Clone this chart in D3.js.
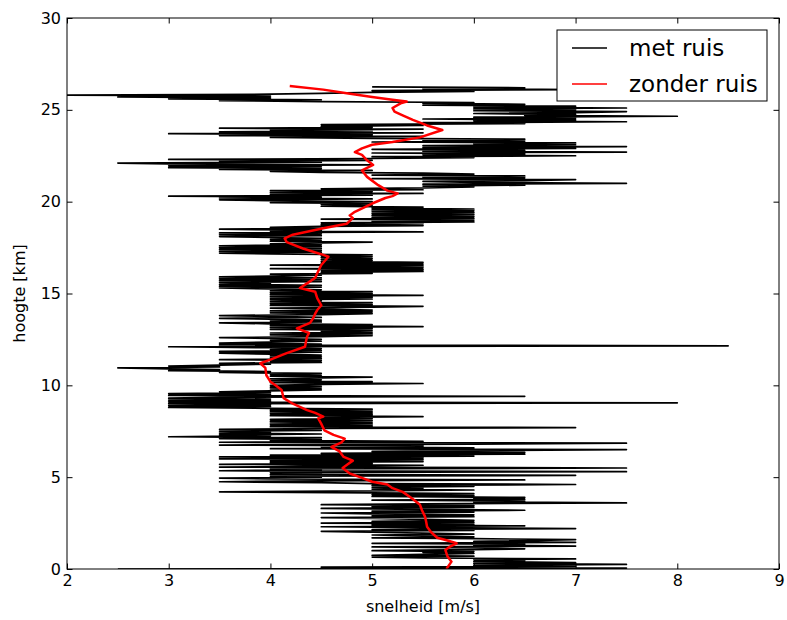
<!DOCTYPE html>
<html>
<head>
<meta charset="utf-8">
<script src="https://cdn.jsdelivr.net/npm/d3@7"></script>
<style>
  body { margin: 0; background: #fff; }
  svg text { font-family: "DejaVu Sans", sans-serif; fill: #000; }
</style>
</head>
<body>
<div id="chart"></div>
<script>
// meting met ruis: een snelheid per 0.05 km hoogte, vanaf 0 km (20 waarden per km)
var hoogteStap = 0.05;
var snelheidMetRuis = [
    2.5, 7.5, 4.5, 7.0, 6.0, 7.5, 6.0, 7.0, 6.0, 6.5, 6.0, 7.0, 5.5, 5.0, 6.0, 5.0, 5.5, 6.0, 5.5, 6.0,   // 0 km
    5.0, 6.0, 6.5, 6.0, 5.0, 7.0, 6.0, 6.5, 5.0, 7.0, 6.0, 6.5, 7.0, 6.0, 5.0, 6.0, 5.5, 5.0, 6.0, 5.5,   // 1
    5.0, 4.5, 6.0, 5.0, 7.0, 5.5, 4.5, 6.5, 5.0, 6.0, 4.5, 6.0, 5.0, 6.0, 5.5, 5.0, 4.5, 6.0, 5.0, 6.0,   // 2
    5.0, 4.5, 6.0, 5.0, 6.5, 5.5, 4.5, 6.0, 5.0, 6.0, 4.5, 5.5, 7.5, 6.0, 6.5, 5.0, 6.5, 6.0, 6.5, 5.0,   // 3
    6.0, 5.0, 6.0, 5.0, 3.5, 5.0, 6.0, 5.0, 5.5, 5.0, 6.0, 5.0, 7.0, 5.0, 4.5, 3.5, 4.5, 6.5, 4.0, 3.5,   // 4
    4.5, 4.0, 7.0, 4.0, 4.5, 4.0, 7.5, 3.5, 4.5, 4.0, 7.5, 3.5, 4.5, 5.5, 3.5, 5.0, 4.0, 5.5, 4.0, 5.5,   // 5
    3.5, 5.5, 3.5, 6.0, 4.0, 6.5, 4.5, 6.5, 5.0, 6.0, 7.5, 4.0, 6.0, 4.5, 5.5, 3.5, 6.0, 7.5, 3.5, 5.5,   // 6
    4.0, 4.5, 3.5, 4.5, 3.0, 4.0, 3.5, 4.5, 3.5, 4.0, 3.5, 4.5, 3.5, 4.5, 7.0, 4.0, 5.0, 4.0, 5.0, 4.0,   // 7
    5.0, 4.0, 5.0, 4.0, 5.0, 4.5, 5.5, 4.0, 5.0, 4.0, 5.0, 4.0, 5.0, 4.0, 5.0, 4.0, 3.0, 4.0, 3.0, 4.0,   // 8
    3.0, 8.0, 3.0, 4.0, 3.0, 4.0, 3.0, 3.5, 6.5, 3.0, 4.0, 3.0, 4.0, 3.5, 4.0, 4.5, 4.0, 4.5, 4.0, 4.5,   // 9
    4.0, 4.5, 5.5, 4.0, 5.0, 4.0, 4.5, 4.0, 4.5, 5.0, 4.0, 4.5, 4.0, 4.5, 3.5, 4.0, 3.0, 3.5, 3.0, 2.5,   // 10
    3.5, 3.0, 3.5, 4.0, 3.5, 4.5, 4.0, 4.5, 3.5, 4.5, 4.0, 4.5, 4.0, 4.5, 4.0, 3.5, 4.5, 3.5, 4.5, 4.0,   // 11
    4.5, 4.0, 3.0, 8.5, 3.5, 4.5, 3.5, 4.0, 4.5, 4.0, 4.5, 4.0, 3.5, 4.5, 5.0, 4.0, 5.0, 4.0, 5.0, 4.5,   // 12
    5.0, 4.0, 5.0, 4.0, 5.5, 4.0, 5.0, 4.0, 3.5, 4.5, 4.0, 4.5, 4.0, 3.5, 4.5, 4.0, 3.5, 4.5, 5.0, 4.0,   // 13
    5.0, 4.0, 5.0, 4.5, 4.0, 5.0, 5.5, 4.0, 5.0, 4.0, 5.0, 4.0, 4.5, 4.0, 5.0, 4.0, 5.0, 4.0, 5.5, 4.0,   // 14
    5.0, 4.0, 5.0, 4.0, 4.5, 4.0, 3.5, 4.5, 3.5, 4.5, 3.5, 4.0, 3.5, 4.5, 3.5, 4.5, 3.5, 4.5, 3.5, 4.0,   // 15
    4.5, 4.0, 5.0, 4.5, 5.5, 4.5, 5.5, 4.0, 5.5, 4.5, 5.5, 4.0, 5.5, 4.5, 5.5, 4.5, 5.0, 4.5, 5.0, 4.5,   // 16
    5.0, 4.5, 5.0, 4.0, 3.5, 4.5, 3.5, 4.5, 3.5, 4.5, 3.5, 4.5, 3.5, 4.5, 4.0, 4.5, 5.0, 4.0, 4.5, 4.0,   // 17
    4.5, 4.0, 3.5, 4.5, 3.5, 4.5, 3.5, 5.5, 4.0, 4.5, 3.5, 4.5, 4.0, 4.5, 5.5, 4.5, 5.5, 4.5, 6.0, 5.0,   // 18
    6.0, 4.5, 6.0, 5.0, 6.0, 5.0, 6.0, 5.0, 6.0, 5.0, 6.0, 5.0, 6.0, 5.0, 5.5, 4.5, 5.0, 4.5, 5.0, 4.0,   // 19
    5.0, 4.0, 3.5, 5.0, 3.5, 4.5, 3.0, 5.0, 4.0, 5.5, 4.0, 5.0, 4.0, 5.5, 4.5, 5.5, 6.0, 5.5, 6.5, 5.5,   // 20
    7.5, 6.0, 5.5, 6.5, 7.0, 5.0, 6.5, 5.5, 6.5, 5.0, 6.0, 5.5, 4.5, 4.0, 5.0, 3.5, 4.5, 3.0, 4.5, 3.0,   // 21
    5.0, 3.0, 2.5, 4.5, 3.5, 5.0, 3.0, 5.0, 6.0, 5.0, 7.0, 5.5, 6.5, 5.0, 7.5, 5.5, 6.5, 5.0, 7.0, 5.5,   // 22
    7.5, 5.5, 7.0, 6.0, 7.0, 5.0, 6.5, 5.5, 6.5, 5.0, 4.0, 5.5, 3.5, 5.0, 3.0, 5.5, 3.5, 5.0, 4.0, 5.5,   // 23
    3.5, 5.0, 4.5, 5.5, 4.5, 6.5, 5.5, 7.5, 6.0, 7.0, 5.5, 7.0, 6.0, 8.0, 6.5, 7.0, 6.0, 7.0, 7.5, 6.0,   // 24
    7.0, 6.0, 7.5, 6.0, 7.0, 5.5, 6.5, 5.5, 6.0, 4.5, 3.5, 4.5, 3.0, 4.0, 2.5, 4.0, 2.0, 4.0, 4.5, 5.0,   // 25
    6.0, 5.0, 7.0, 5.5, 6.5, 5.0                                                                     // 26
];

// profiel zonder ruis
var hoogteZonderRuis = [
    0.0, 0.4, 0.7, 1.03, 1.2, 1.4, 1.55, 1.7, 2.0, 2.3, 2.6, 2.85, 3.2, 3.5, 3.85,
    4.2, 4.4, 4.6, 4.75, 5.0, 5.2, 5.5, 5.7, 5.9, 6.1, 6.4, 6.65, 6.9, 7.1, 7.3,
    7.55, 7.9, 8.2, 8.3, 8.5, 8.65, 9.0, 9.3, 9.75, 10.0, 10.2, 10.55, 10.95, 11.2, 11.4,
    11.75, 12.1, 12.4, 12.65, 12.85, 13.1, 13.4, 13.65, 13.9, 14.1, 14.35, 14.75, 15.1, 15.3, 15.55,
    15.85, 16.1, 16.55, 17.0, 17.1, 17.45, 17.8, 18.0, 18.2, 18.55, 18.8, 19.1, 19.25, 19.45, 19.9,
    20.2, 20.3, 20.45, 20.6, 20.9, 21.35, 21.7, 22.0, 22.25, 22.55, 22.7, 22.9, 23.1, 23.25, 23.5,
    23.9, 24.15, 24.45, 24.7, 24.9, 25.1, 25.35, 25.45, 25.55, 25.7, 25.9, 26.1, 26.3
];
var snelheidZonderRuis = [
    5.73, 5.78, 5.74, 5.72, 5.76, 5.83, 5.74, 5.64, 5.58, 5.54, 5.53, 5.52, 5.49, 5.47, 5.39,
    5.30, 5.20, 5.15, 5.00, 4.88, 4.78, 4.71, 4.76, 4.81, 4.72, 4.68, 4.60, 4.70, 4.73, 4.62,
    4.53, 4.50, 4.47, 4.52, 4.44, 4.36, 4.22, 4.13, 4.11, 4.05, 4.00, 3.96, 3.95, 3.90, 4.00,
    4.16, 4.34, 4.35, 4.36, 4.38, 4.26, 4.39, 4.42, 4.44, 4.46, 4.50, 4.46, 4.44, 4.29, 4.36,
    4.44, 4.46, 4.50, 4.57, 4.52, 4.32, 4.16, 4.14, 4.22, 4.52, 4.75, 4.81, 4.78, 4.83, 5.00,
    5.13, 5.20, 5.25, 5.15, 5.06, 4.95, 4.90, 5.01, 4.95, 4.90, 4.83, 4.90, 5.00, 5.20, 5.47,
    5.69, 5.54, 5.40, 5.30, 5.22, 5.20, 5.28, 5.34, 5.20, 5.00, 4.75, 4.52, 4.19
];

var xTicks = [2, 3, 4, 5, 6, 7, 8, 9];
var yTicks = [0, 5, 10, 15, 20, 25, 30];
var legendaLabels = ['met ruis', 'zonder ruis'];
var legendaKleuren = ['#000000', '#ff0000'];

var W = 787, H = 620;
var M = {top: 18, right: 8, bottom: 51, left: 67};
var iw = W - M.left - M.right;
var ih = H - M.top - M.bottom;

var svg = d3.select('#chart').append('svg')
    .attr('width', W)
    .attr('height', H)
    .style('display', 'block');

var g = svg.append('g').attr('transform', 'translate(' + M.left + ',' + M.top + ')');

var x = d3.scaleLinear().domain([2, 9]).range([0, iw]);
var y = d3.scaleLinear().domain([0, 30]).range([ih, 0]);

var ruisData = snelheidMetRuis.map(function(v, i) { return {h: i * hoogteStap, v: v}; });
var gladData = hoogteZonderRuis.map(function(h, i) { return {h: h, v: snelheidZonderRuis[i]}; });

var line = d3.line()
    .x(function(d) { return x(d.v); })
    .y(function(d) { return y(d.h); });

g.append('defs').append('clipPath').attr('id', 'clip')
    .append('rect').attr('width', iw).attr('height', ih);

g.append('path')
    .datum(ruisData)
    .attr('clip-path', 'url(#clip)')
    .attr('fill', 'none')
    .attr('stroke', legendaKleuren[0])
    .attr('stroke-width', 1.7)
    .attr('stroke-linejoin', 'round')
    .attr('d', line);

g.append('path')
    .datum(gladData)
    .attr('clip-path', 'url(#clip)')
    .attr('fill', 'none')
    .attr('stroke', legendaKleuren[1])
    .attr('stroke-width', 2.5)
    .attr('stroke-linejoin', 'round')
    .attr('d', line);

// assen met ticks naar binnen, ook boven en rechts
var tl = 5.5;
g.append('g').attr('class', 'axis')
    .attr('transform', 'translate(0,' + ih + ')')
    .call(d3.axisBottom(x).tickValues(xTicks).tickSize(-tl).tickPadding(6).tickFormat(d3.format('d')));
g.append('g').attr('class', 'axis')
    .call(d3.axisTop(x).tickValues(xTicks).tickSize(-tl).tickFormat(''));
g.append('g').attr('class', 'axis')
    .call(d3.axisLeft(y).tickValues(yTicks).tickSize(-tl).tickPadding(6).tickFormat(d3.format('d')));
g.append('g').attr('class', 'axis')
    .attr('transform', 'translate(' + iw + ',0)')
    .call(d3.axisRight(y).tickValues(yTicks).tickSize(-tl).tickFormat(''));

g.selectAll('.axis .domain').remove();
g.selectAll('.axis .tick line').style('stroke', '#000').style('stroke-width', 1);
g.selectAll('.axis text').style('font-size', '16px').style('fill', '#000')
    .style('font-family', '"DejaVu Sans", sans-serif');

g.append('rect')
    .attr('width', iw).attr('height', ih)
    .attr('fill', 'none')
    .attr('stroke', '#000')
    .attr('stroke-width', 1);

// aslabels
svg.append('text')
    .attr('x', M.left + iw / 2)
    .attr('y', 612)
    .attr('text-anchor', 'middle')
    .style('font-size', '16px')
    .text('snelheid [m/s]');

svg.append('text')
    .attr('transform', 'translate(25,' + (M.top + ih / 2) + ') rotate(-90)')
    .attr('text-anchor', 'middle')
    .style('font-size', '16px')
    .text('hoogte [km]');

// legenda
var leg = svg.append('g');
leg.append('rect')
    .attr('x', 557).attr('y', 30)
    .attr('width', 210).attr('height', 71)
    .attr('fill', '#fff')
    .attr('stroke', '#000')
    .attr('stroke-width', 1);

legendaLabels.forEach(function(lab, i) {
    var ly = 48 + i * 36;
    leg.append('line')
        .attr('x1', 572).attr('x2', 607)
        .attr('y1', ly).attr('y2', ly)
        .attr('stroke', legendaKleuren[i])
        .attr('stroke-width', 1.6);
    leg.append('text')
        .attr('x', 629)
        .attr('y', ly + 8)
        .style('font-size', '23px')
        .text(lab);
});
</script>
</body>
</html>
